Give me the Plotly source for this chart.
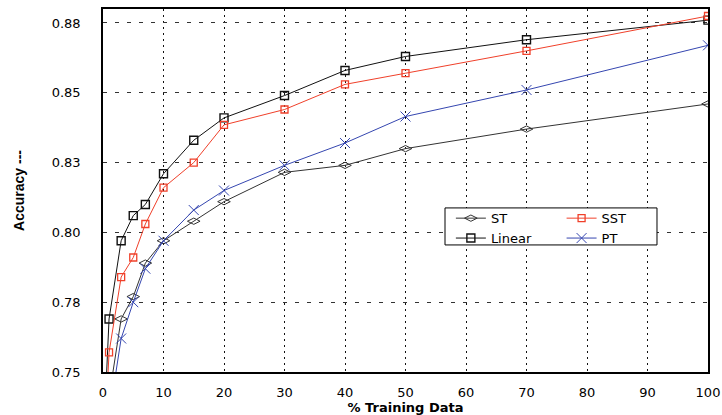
import plotly.graph_objects as go

# % training data used for each series
x_linear = [0.5, 1, 3, 5, 7, 10, 15, 20, 30, 40, 50, 70, 100]
x_sst = [0.5, 1, 3, 5, 7, 10, 15, 20, 30, 40, 50, 70, 100]
x_st = [1, 3, 5, 7, 10, 15, 20, 30, 40, 50, 70, 100]
x_pt = [1, 3, 5, 7, 10, 15, 20, 30, 40, 50, 70, 100]

acc_linear = [0.745, 0.769, 0.797, 0.806, 0.810, 0.821, 0.833, 0.841, 0.849, 0.858, 0.863, 0.869, 0.876]
acc_sst = [0.735, 0.757, 0.784, 0.791, 0.803, 0.816, 0.825, 0.8385, 0.844, 0.853, 0.857, 0.865, 0.8775]
acc_st = [0.741, 0.769, 0.777, 0.789, 0.797, 0.804, 0.811, 0.8215, 0.824, 0.830, 0.837, 0.846]
acc_pt = [0.734, 0.762, 0.775, 0.787, 0.797, 0.808, 0.815, 0.824, 0.832, 0.8415, 0.851, 0.867]

y_tickvals = [0.75, 0.775, 0.80, 0.825, 0.85, 0.875]
y_ticktext = ["0.75", "0.78", "0.80", "0.83", "0.85", "0.88"]
x_tickvals = [0, 10, 20, 30, 40, 50, 60, 70, 80, 90, 100]

FONT = "DejaVu Sans, Liberation Sans, Arial, sans-serif"


def make_trace(x, y, name, color, symbol, size, legend, line_w=1.0):
    return go.Scatter(
        x=x,
        y=y,
        name=name,
        mode="lines+markers",
        line=dict(color=color, width=1),
        marker=dict(symbol=symbol, size=size, color=color, line=dict(color=color, width=line_w)),
        legend=legend,
        cliponaxis=True,
    )


fig = go.Figure()
fig.add_traces(
    [
        make_trace(x_st, acc_st, "ST", "#333333", "diamond-wide-open", 9, "legend"),
        make_trace(x_linear, acc_linear, "Linear", "#111111", "square-open", 8, "legend", 1.4),
        make_trace(x_sst, acc_sst, "SST", "#f0402a", "square-open", 7, "legend2", 1.3),
        make_trace(x_pt, acc_pt, "PT", "#3546b0", "x-thin-open", 10, "legend2"),
    ]
)

# legend frame (two side-by-side legends give the 2x2 layout)
fig.add_shape(
    type="rect",
    xref="paper",
    yref="paper",
    x0=0.5653,
    x1=0.9157,
    y0=0.350,
    y1=0.452,
    line=dict(color="black", width=1),
    fillcolor="white",
    layer="above",
)

legend_style = dict(
    bgcolor="rgba(0,0,0,0)",
    borderwidth=0,
    font=dict(family=FONT, size=13, color="black"),
    xanchor="left",
    yanchor="top",
    y=0.465,
    itemwidth=30,
)

fig.update_layout(
    width=722,
    height=415,
    margin=dict(l=103, r=14, t=9, b=43),
    paper_bgcolor="white",
    plot_bgcolor="white",
    font=dict(family=FONT, size=13, color="black"),
    showlegend=True,
    legend=dict(legend_style, x=0.575),
    legend2=dict(legend_style, x=0.758),
    xaxis=dict(
        range=[0, 100],
        tickvals=x_tickvals,
        automargin=False,
        showgrid=True,
        gridcolor="#111111",
        griddash="2px,4px",
        gridwidth=1,
        zeroline=False,
        showline=True,
        mirror=True,
        linecolor="black",
        linewidth=1.5,
        ticks="",
        ticklabelstandoff=8,
        title=dict(
            text="% Training Data",
            font=dict(family="DejaVu Sans, sans-serif", size=13, weight="bold"),
            standoff=2,
        ),
    ),
    yaxis=dict(
        range=[0.75, 0.88],
        tickvals=y_tickvals,
        ticktext=y_ticktext,
        automargin=False,
        showgrid=True,
        gridcolor="#333333",
        griddash="4px,8px",
        gridwidth=1,
        zeroline=False,
        showline=True,
        mirror=True,
        linecolor="black",
        linewidth=1.5,
        ticks="",
        ticklabelstandoff=18,
        title=dict(
            text="Accuracy ---",
            font=dict(family="Liberation Sans Narrow, Liberation Sans, Arial, sans-serif", size=14, weight="bold"),
            standoff=24,
        ),
    ),
)

# drop the browser's default body margin so the figure sits at the page corner
fig.write_html(
    "out.html",
    config={"displayModeBar": False},
    post_script="document.body.style.margin = '0';",
)
